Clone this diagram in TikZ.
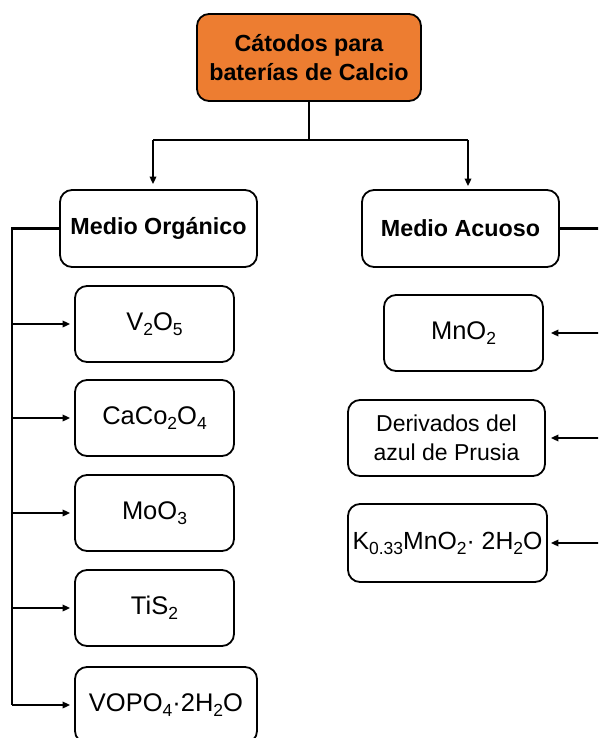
\documentclass[tikz,border=0pt]{standalone}
\usepackage{fontspec}
\setmainfont{Liberation Sans}
\usetikzlibrary{arrows.meta}
\definecolor{boxorange}{RGB}{237,125,49}
% chemical subscript in the running sans font
\newcommand{\chsub}[1]{\raisebox{-5pt}{\fontsize{17.5}{17.5}\selectfont #1}}
\begin{document}
\begin{tikzpicture}[x=1pt,y=-1pt,
  box/.style={draw=black, line width=1.8pt, rounded corners=12pt, align=center,
    inner sep=0pt, fill=white, font=\fontsize{23}{29}\selectfont},
  headbox/.style={box, font=\fontsize{23.3}{29}\selectfont\bfseries},
  formbox/.style={box, font=\fontsize{25.5}{30}\selectfont},
  trunk/.style={draw=black, line width=2.2pt},
  arr/.style={draw=black, line width=1.8pt, -{Triangle[length=7.5pt,width=6.5pt]}},
]
\useasboundingbox (0,0) rectangle (598,738);
\clip (0,0) rectangle (598,738);

% root
\node[headbox, fill=boxorange, minimum width=224pt, minimum height=87pt]
  (root) at (309,57.5) {Cátodos para\\baterías de Calcio};

% media
\node[headbox, minimum width=197pt, minimum height=77pt] (org) at (158.5,228.5) {Medio Orgánico};
\node[headbox, minimum width=197pt, minimum height=77pt] (acu) at (460.5,228.5) {Medio Acuoso};

% organic cathodes
\node[formbox, minimum width=159pt, minimum height=76pt] (vo) at (154.5,324) {V\chsub{2}O\chsub{5}};
\node[formbox, minimum width=159pt, minimum height=76pt] (caco) at (154.5,418) {CaCo\chsub{2}O\chsub{4}};
\node[formbox, minimum width=159pt, minimum height=76pt] (moo) at (154.5,513) {MoO\chsub{3}};
\node[formbox, minimum width=159pt, minimum height=76pt] (tis) at (154.5,608) {TiS\chsub{2}};
\node[formbox, minimum width=182pt, minimum height=76pt] (vopo) at (166,705) {VOPO\chsub{4}·2H\chsub{2}O};

% aqueous cathodes
\node[formbox, minimum width=159pt, minimum height=76pt] (mno) at (463.5,333) {MnO\chsub{2}};
\node[box, minimum width=197pt, minimum height=76pt] (prus) at (446.5,438) {Derivados del\\azul de Prusia};
\node[formbox, minimum width=199pt, minimum height=78pt, font=\fontsize{24.8}{30}\selectfont]
  (kmn) at (447.5,543) {K\chsub{0.33}MnO\chsub{2}· 2H\chsub{2}O};

% root split
\coordinate (hl) at (153,140);
\coordinate (hr) at (468,140);
\draw[trunk] (root.south) -- (root.south |- hl);
\draw[trunk] (hl) -- (hr);
\draw[arr, shorten >=5pt] (hl) -- (hl |- org.north);
\draw[arr, shorten >=3pt] (hr) -- (hr |- acu.north);

% organic branch
\coordinate (lx) at (12,228.5);
\draw[trunk] (org.west) -- (lx) -- (lx |- vopo.west);
\foreach \n in {vo,caco,moo,tis,vopo}
  \draw[arr, shorten >=4pt] (lx |- \n.west) -- (\n.west);

% aqueous branch
\coordinate (rx) at (606,228.5);
\draw[trunk] (acu.east) -- (rx) -- (rx |- kmn.east);
\draw[arr, shorten >=7pt] (rx |- mno.east) -- (mno.east);
\draw[arr, shorten >=5pt] (rx |- prus.east) -- (prus.east);
\draw[arr, shorten >=3pt] (rx |- kmn.east) -- (kmn.east);
\end{tikzpicture}
\end{document}
